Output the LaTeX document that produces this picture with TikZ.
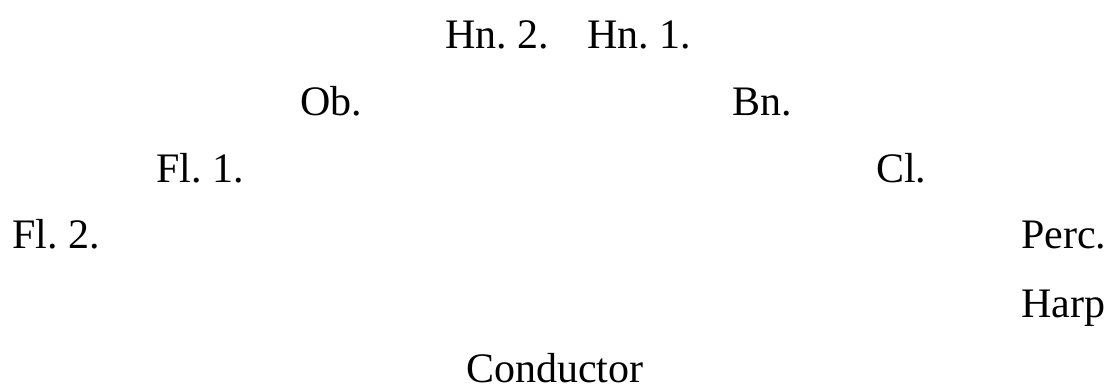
\documentclass[tikz,border=0pt]{standalone}
\usepackage{fontspec}
\setmainfont{LiberationSerif-Regular.ttf}
\begin{document}
\frenchspacing
\begin{tikzpicture}[x=1pt,y=-1pt,
  lbl/.style={anchor=base west,inner sep=0pt,font=\fontsize{42}{50}\selectfont}]
\useasboundingbox (0,0) rectangle (1113,388);
\node[lbl] (hn2) at (445,48) {Hn. 2.};
\node[lbl] (hn1) at (587,48) {Hn. 1.};
\node[lbl] (ob) at (300,115) {Ob.};
\node[lbl] (bn) at (732,115) {Bn.};
\node[lbl] (fl1) at (156,182) {Fl. 1.};
\node[lbl] (cl) at (876,182) {Cl.};
\node[lbl] (fl2) at (12,248) {Fl. 2.};
\node[lbl] (perc) at (1021,248) {Perc.};
\node[lbl] (harp) at (1021,317) {Harp};
\node[lbl] (cond) at (466,382) {Conductor};
\end{tikzpicture}
\end{document}
